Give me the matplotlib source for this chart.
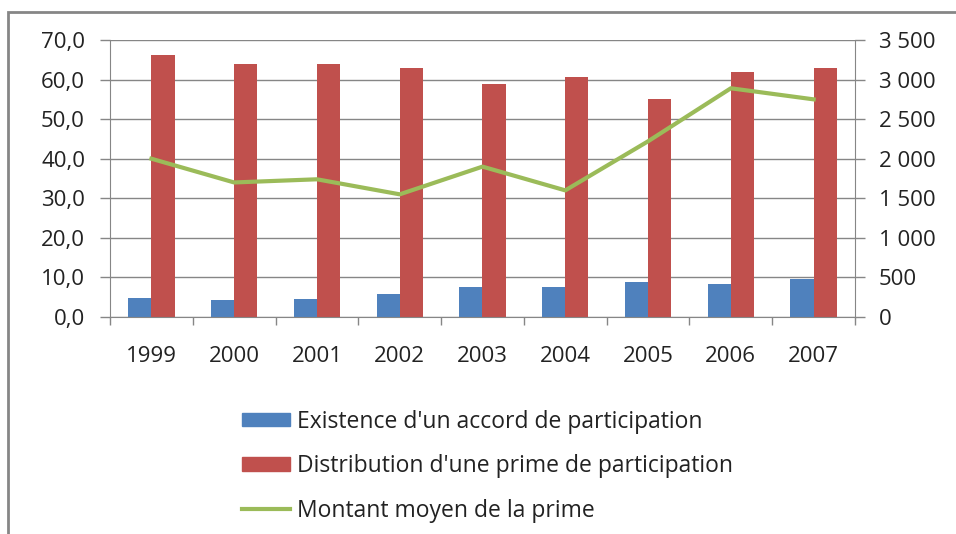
import matplotlib.pyplot as plt
import matplotlib.patches as mpatches
from matplotlib.lines import Line2D
import numpy as np

years = ["1999", "2000", "2001", "2002", "2003", "2004", "2005", "2006", "2007"]
accord = [4.9, 4.3, 4.5, 5.7, 7.6, 7.6, 8.8, 8.4, 9.6]
distribution = [66.3, 64.0, 64.0, 62.8, 58.8, 60.7, 55.0, 61.9, 62.8]
montant = [2000, 1700, 1740, 1550, 1900, 1600, 2220, 2890, 2750]

left_ticks = [0, 10, 20, 30, 40, 50, 60, 70]
right_ticks = [0, 500, 1000, 1500, 2000, 2500, 3000, 3500]

blue = "#4F81BD"
red = "#C0504D"
green = "#9BBB59"
grey = "#868686"
txt = "#222222"

plt.rcParams['font.family'] = ['Open Sans', 'DejaVu Sans']

fig = plt.figure(figsize=(9.56, 5.34), dpi=100)
ax = fig.add_axes([110/956, 1 - 317/534, 745/956, 277/534])

x = np.arange(len(years))
w = 0.28
ax.bar(x - w/2, accord, w, color=blue, zorder=2)
ax.bar(x + w/2, distribution, w, color=red, zorder=2)

ax.set_xlim(-0.5, len(years) - 0.5)
ax.set_ylim(0, 70)
ax.set_yticks(left_ticks)
ax.set_yticklabels([f"{v:.1f}".replace(".", ",") for v in left_ticks])
ax.set_xticks(x)
ax.set_xticklabels(years)
ax.set_xticks(np.arange(-0.5, len(years)), minor=True)
ax.tick_params(axis='x', which='major', length=0, pad=21, labelsize=16, colors=txt)
ax.tick_params(axis='x', which='minor', length=6, color=grey, width=1)
ax.tick_params(axis='y', length=7, color=grey, width=1, labelsize=16, colors=txt, pad=11)
ax.grid(axis='y', color=grey, linewidth=1, zorder=0)
ax.set_axisbelow(True)
for s in ['left', 'bottom', 'right']:
    ax.spines[s].set_color(grey)
ax.spines['top'].set_visible(False)

ax2 = ax.twinx()
ax2.plot(x, montant, color=green, linewidth=3, zorder=3)
ax2.set_ylim(0, 3500)
ax2.set_yticks(right_ticks)
ax2.set_yticklabels([f"{v:,}".replace(",", " ") for v in right_ticks])
ax2.tick_params(axis='y', length=7, color=grey, width=1, labelsize=16, colors=txt, pad=10)
for s in ax2.spines.values():
    s.set_visible(False)

handles = [
    mpatches.Patch(color=blue, label="Existence d'un accord de participation"),
    mpatches.Patch(color=red, label="Distribution d'une prime de participation"),
    Line2D([], [], color=green, linewidth=3, label="Montant moyen de la prime"),
]
fig.legend(handles=handles, loc='upper left', bbox_to_anchor=(221/956, 1 - 389/534),
           frameon=False, fontsize=16.5, handlelength=2.1, handleheight=0.55,
           labelspacing=0.9, handletextpad=0.3, labelcolor=txt)

fig.add_artist(mpatches.Rectangle((8/956, -0.1), 1.0, 1 - 12/534 + 0.1,
                                  transform=fig.transFigure, fill=False,
                                  edgecolor=grey, linewidth=2))

fig.savefig("out.png", dpi=100)
